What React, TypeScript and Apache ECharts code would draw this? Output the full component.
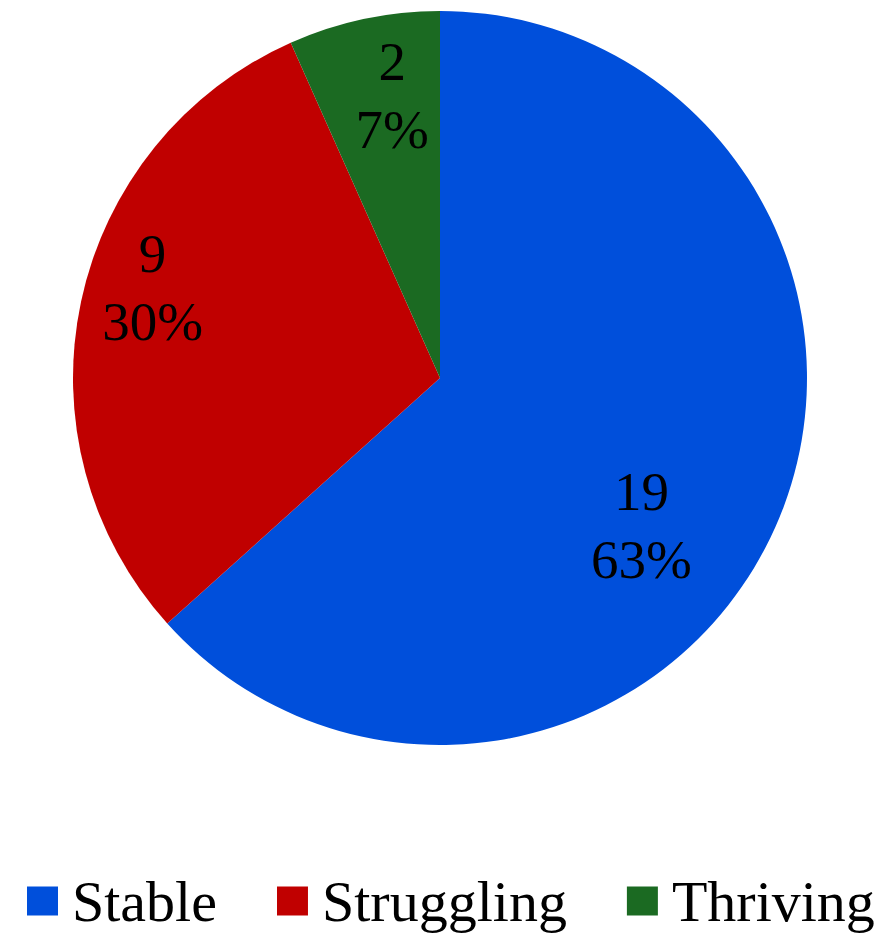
import React, { useEffect, useRef } from "react";
import * as echarts from "echarts";

const categories = ["Stable", "Struggling", "Thriving"];
const counts = [19, 9, 2];
const colors = ["#004FDB", "#C00000", "#1B6A22"];
// label nudges from the default inside position (layout only)
const labelOffsets = [
  [31, 72],
  [-105, -52],
  [-9, -100],
];

const FONT = "'Liberation Serif', 'Times New Roman', serif";

export default function App() {
  const ref = useRef<HTMLDivElement>(null);
  useEffect(() => {
    if (!ref.current) return;
    const chart = echarts.init(ref.current, undefined, { renderer: "svg" });
    chart.setOption({
      animation: false,
      backgroundColor: "#ffffff",
      legend: {
        bottom: 2,
        left: 22,
        itemWidth: 31,
        itemHeight: 29,
        itemGap: 60,
        icon: "rect",
        data: categories,
        textStyle: {
          fontFamily: FONT,
          fontSize: 58,
          color: "#000",
          padding: [0, 0, 0, 9],
        },
      },
      series: [
        {
          type: "pie",
          center: [440, 378],
          radius: [0, 367],
          startAngle: 90,
          clockwise: true,
          percentPrecision: 0,
          data: categories.map((name, i) => ({
            name,
            value: counts[i],
            itemStyle: { color: colors[i] },
            label: { offset: labelOffsets[i] },
          })),
          itemStyle: { borderWidth: 0 },
          label: {
            show: true,
            position: "inside",
            formatter: "{c}\n{d}%",
            fontFamily: FONT,
            fontSize: 55,
            lineHeight: 68,
            color: "#000",
          },
          labelLine: { show: false },
          emphasis: { disabled: true },
        },
      ],
    });
    return () => chart.dispose();
  }, []);
  return (
    <div
      ref={ref}
      style={{ position: "fixed", left: 0, top: 0, width: 881, height: 937 }}
    />
  );
}
